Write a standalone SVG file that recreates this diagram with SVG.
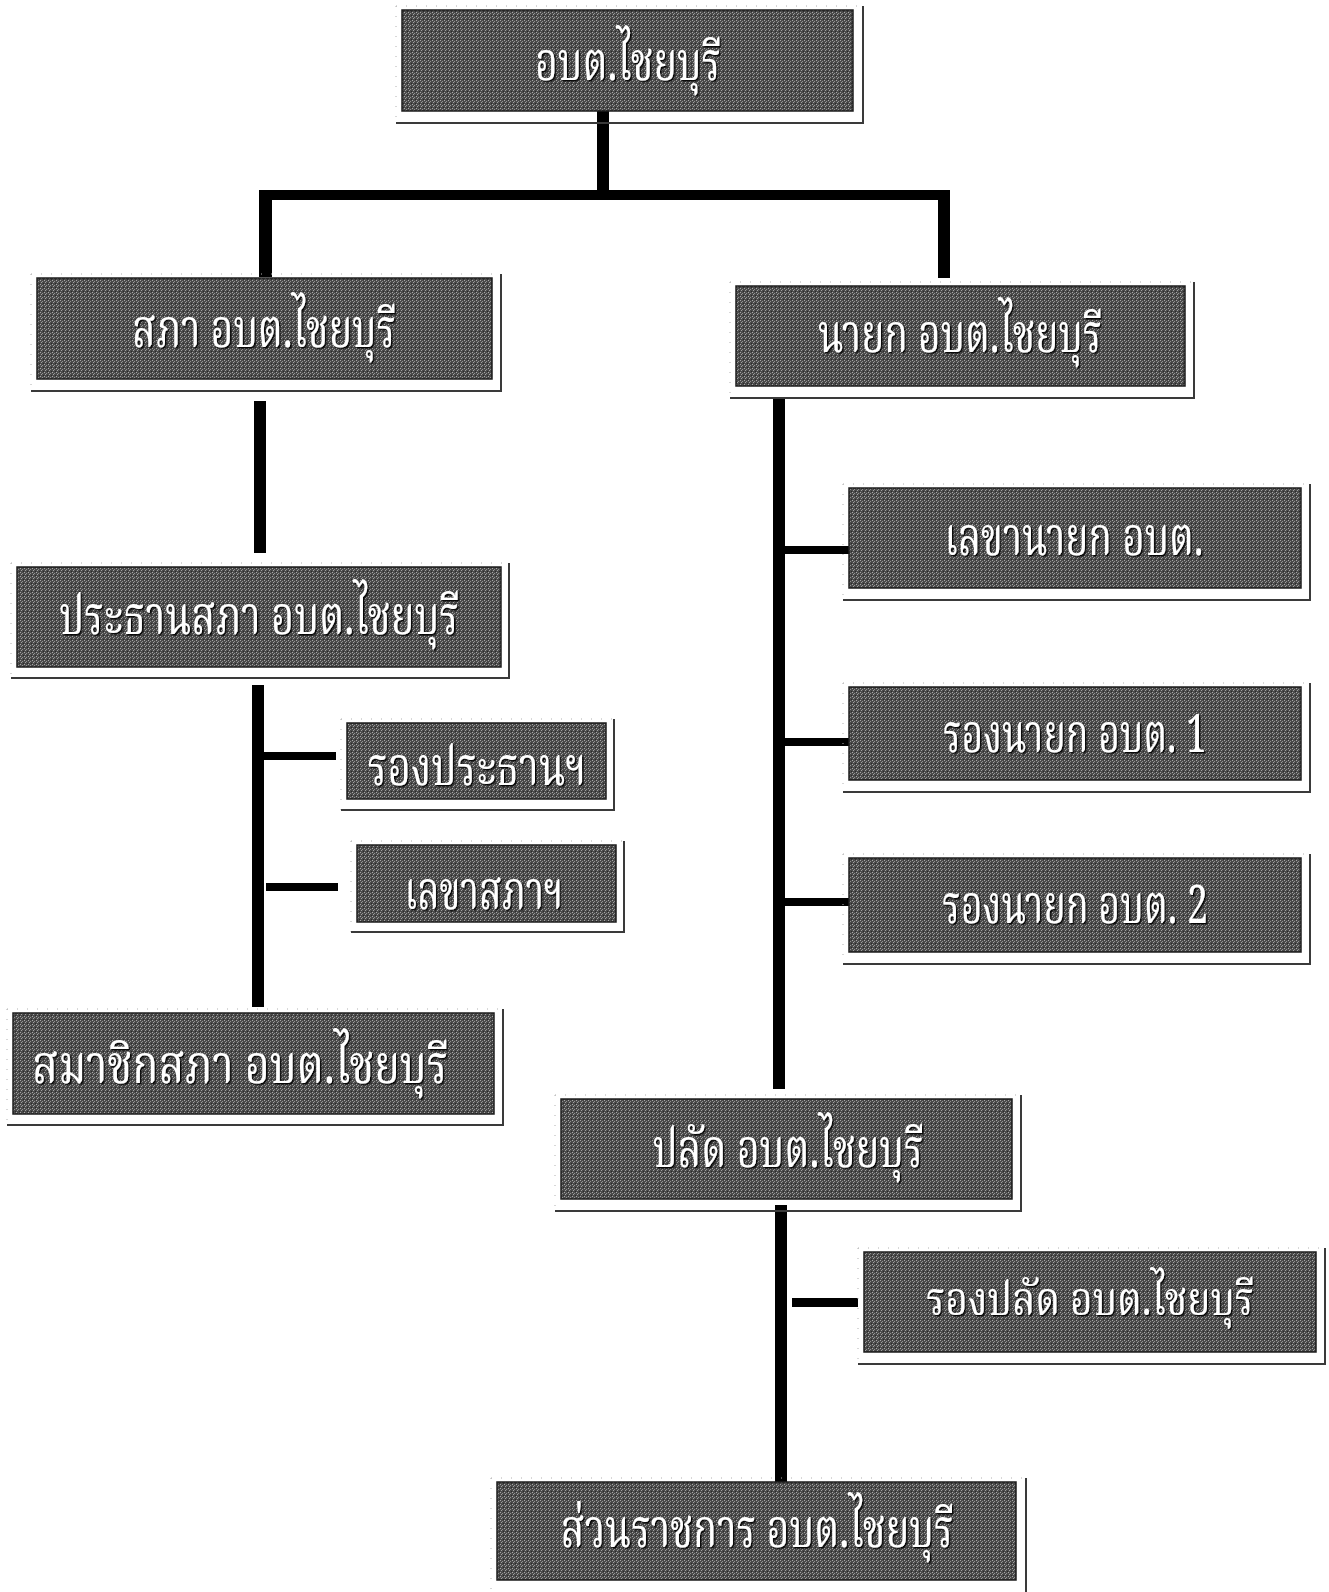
<svg xmlns="http://www.w3.org/2000/svg" width="1329" height="1592" viewBox="0 0 1329 1592">
<style>
.box{fill:url(#tex);stroke:#1e1e1e;stroke-width:1.5}
.frame{fill:none;stroke:#3a3a3a;stroke-width:2}
.faint{fill:none;stroke:#b0b0b0;stroke-width:1;stroke-dasharray:1 9}
.lbl{fill:#ffffff;font-family:"Noto Serif Thai","Noto Sans Thai","Norasi","Loma","Garuda","Tlwg Typo",serif;font-size:53px;text-anchor:middle;filter:url(#ts)}
.sm{font-size:47px}
.con{fill:#000000}
</style>
<defs>
<pattern id="tex" width="4" height="4" patternUnits="userSpaceOnUse">
<rect width="4" height="4" fill="#4a4a4a"/>
<rect x="0" y="0" width="1" height="1" fill="#a8a8a8"/>
<rect x="2" y="1" width="1" height="1" fill="#909090"/>
<rect x="1" y="2" width="1" height="1" fill="#a0a0a0"/>
<rect x="3" y="3" width="1" height="1" fill="#2a2a2a"/>
</pattern>
<filter id="ts" x="-5%" y="-50%" width="110%" height="200%">
<feDropShadow dx="1.5" dy="1.5" stdDeviation="0.6" flood-color="#000" flood-opacity="0.9"/>
</filter>
</defs>
<rect width="1329" height="1592" fill="#ffffff"/>

<g id="connectors">
<rect class="con" x="597" y="111" width="12" height="82"/>
<rect class="con" x="259" y="190" width="691" height="10"/>
<rect class="con" x="259" y="190" width="13" height="87"/>
<rect class="con" x="938" y="190" width="12" height="88"/>
<rect class="con" x="254" y="401" width="12" height="152"/>
<rect class="con" x="252" y="685" width="12" height="322"/>
<rect class="con" x="264" y="752" width="72" height="8"/>
<rect class="con" x="266" y="883" width="72" height="8"/>
<rect class="con" x="773" y="399" width="12" height="690"/>
<rect class="con" x="785" y="546" width="64" height="8"/>
<rect class="con" x="785" y="738" width="64" height="8"/>
<rect class="con" x="785" y="898" width="64" height="8"/>
<rect class="con" x="775" y="1205" width="12" height="277"/>
<rect class="con" x="792" y="1298" width="66" height="9"/>
</g>

<g id="n1">
<path class="faint" d="M396 6H863M396 6V123"/>
<path class="frame" d="M863 6V123H396"/>
<rect class="box" x="402" y="10" width="451" height="101"/>
<text class="lbl" x="628" y="80" textLength="186" lengthAdjust="spacingAndGlyphs">อบต.ไชยบุรี</text>
</g>
<g id="n2">
<path class="faint" d="M31 274H501M31 274V391"/>
<path class="frame" d="M501 274V391H31"/>
<rect class="box" x="37" y="278" width="455" height="101"/>
<text class="lbl" x="264" y="347" textLength="264" lengthAdjust="spacingAndGlyphs">สภา อบต.ไชยบุรี</text>
</g>
<g id="n3">
<path class="faint" d="M730 282H1194M730 282V398"/>
<path class="frame" d="M1194 282V398H730"/>
<rect class="box" x="736" y="286" width="449" height="100"/>
<text class="lbl" x="960" y="352" textLength="284" lengthAdjust="spacingAndGlyphs">นายก อบต.ไชยบุรี</text>
</g>
<g id="n4">
<path class="faint" d="M11 563H509M11 563V678"/>
<path class="frame" d="M509 563V678H11"/>
<rect class="box" x="17" y="567" width="484" height="100"/>
<text class="lbl" x="259" y="634" textLength="400" lengthAdjust="spacingAndGlyphs">ประธานสภา อบต.ไชยบุรี</text>
</g>
<g id="n5">
<path class="faint" d="M341 719H614M341 719V810"/>
<path class="frame" d="M614 719V810H341"/>
<rect class="box" x="347" y="723" width="259" height="76"/>
<text class="lbl" x="477" y="785" textLength="219" lengthAdjust="spacingAndGlyphs">รองประธานฯ</text>
</g>
<g id="n6">
<path class="faint" d="M351 841H624M351 841V932"/>
<path class="frame" d="M624 841V932H351"/>
<rect class="box" x="357" y="845" width="259" height="77"/>
<text class="lbl" x="484" y="909" textLength="159" lengthAdjust="spacingAndGlyphs">เลขาสภาฯ</text>
</g>
<g id="n7">
<path class="faint" d="M7 1009H503M7 1009V1125"/>
<path class="frame" d="M503 1009V1125H7"/>
<rect class="box" x="13" y="1013" width="481" height="101"/>
<text class="lbl" x="240" y="1083" textLength="416" lengthAdjust="spacingAndGlyphs">สมาชิกสภา อบต.ไชยบุรี</text>
</g>
<g id="n8">
<path class="faint" d="M843 484H1310M843 484V600"/>
<path class="frame" d="M1310 484V600H843"/>
<rect class="box" x="849" y="488" width="452" height="100"/>
<text class="lbl" x="1074" y="555" textLength="259" lengthAdjust="spacingAndGlyphs">เลขานายก อบต.</text>
</g>
<g id="n9">
<path class="faint" d="M843 683H1310M843 683V792"/>
<path class="frame" d="M1310 683V792H843"/>
<rect class="box" x="849" y="687" width="452" height="93"/>
<text class="lbl" x="1075" y="752" textLength="264" lengthAdjust="spacingAndGlyphs">รองนายก อบต. 1</text>
</g>
<g id="n10">
<path class="faint" d="M843 854H1310M843 854V964"/>
<path class="frame" d="M1310 854V964H843"/>
<rect class="box" x="849" y="858" width="452" height="94"/>
<text class="lbl" x="1075" y="923" textLength="266" lengthAdjust="spacingAndGlyphs">รองนายก อบต. 2</text>
</g>
<g id="n11">
<path class="faint" d="M555 1095H1021M555 1095V1211"/>
<path class="frame" d="M1021 1095V1211H555"/>
<rect class="box" x="561" y="1099" width="451" height="100"/>
<text class="lbl" x="788" y="1167" textLength="271" lengthAdjust="spacingAndGlyphs">ปลัด อบต.ไชยบุรี</text>
</g>
<g id="n12">
<path class="faint" d="M858 1248H1325M858 1248V1364"/>
<path class="frame" d="M1325 1248V1364H858"/>
<rect class="box" x="864" y="1252" width="452" height="100"/>
<text class="lbl sm" x="1090" y="1315" textLength="328" lengthAdjust="spacingAndGlyphs">รองปลัด อบต.ไชยบุรี</text>
</g>
<g id="n13">
<path class="faint" d="M491 1478H1026M491 1478V1592"/>
<path class="frame" d="M1026 1478V1592"/>
<rect class="box" x="497" y="1482" width="519" height="98"/>
<text class="lbl" x="757" y="1547" textLength="393" lengthAdjust="spacingAndGlyphs">ส่วนราชการ อบต.ไชยบุรี</text>
</g>
</svg>
